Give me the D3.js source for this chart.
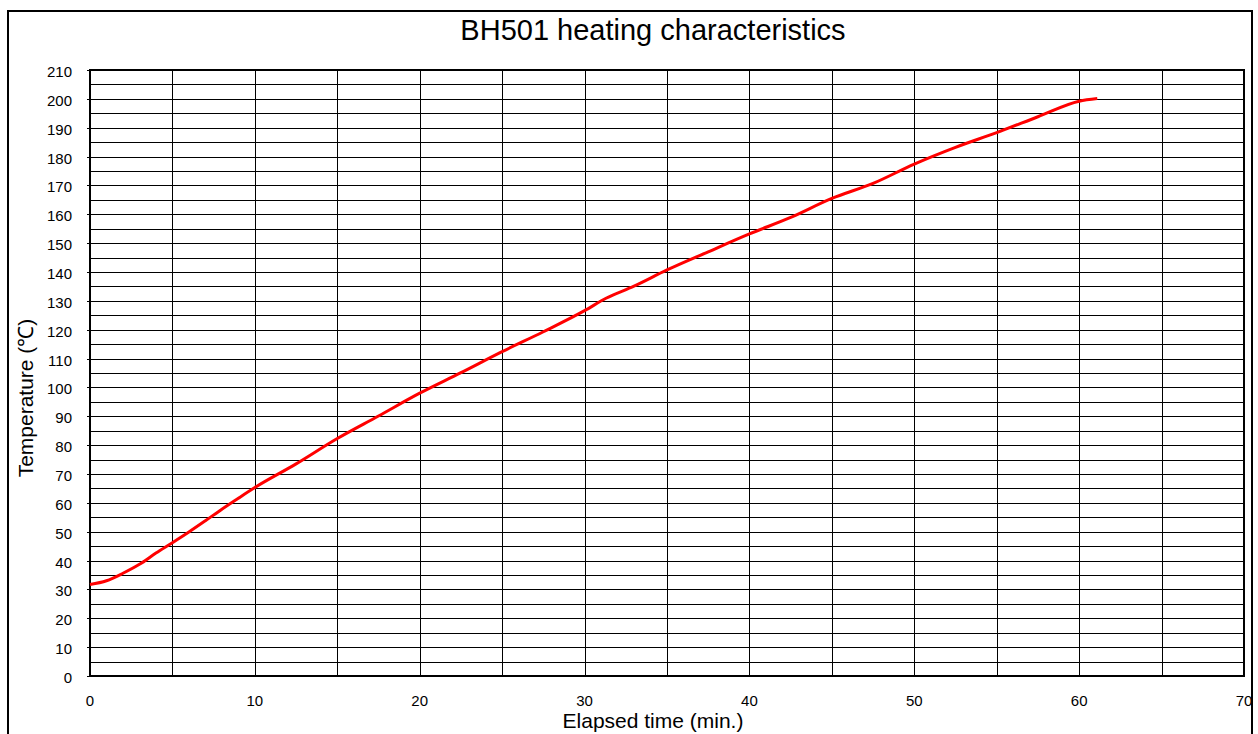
<!DOCTYPE html>
<html>
<head>
<meta charset="utf-8">
<script src="https://cdn.jsdelivr.net/npm/d3@7"></script>
<style>
    body { margin: 0; background: #fff; }
    text { font-family: "Liberation Sans", Arial, sans-serif; fill: #000; }
</style>
</head>
<body>
<div id="chart"></div>
<script>
var times = [0, 1, 2, 3, 4, 5, 6, 7, 8, 9, 10, 12.5, 15, 17.5, 20, 22.5, 25, 27.5, 30, 31.3, 33, 35, 37.5, 40, 42.5, 45, 47.5, 50, 52.5, 55, 57.5, 60, 61.1];
var temps = [31.7, 33, 35.6, 38.7, 42.6, 46.2, 49.9, 53.8, 57.8, 61.6, 65.3, 73.5, 82.3, 90.1, 98, 105.1, 112.4, 119.3, 126.6, 130.9, 135.1, 140.7, 147, 153.2, 158.9, 165.5, 170.7, 177.4, 183.2, 188.3, 193.8, 199.2, 200.1];

var xTicks = [0, 10, 20, 30, 40, 50, 60, 70];
var yTicks = [0, 10, 20, 30, 40, 50, 60, 70, 80, 90, 100, 110, 120, 130, 140, 150, 160, 170, 180, 190, 200, 210];
var xGrid = [0, 5, 10, 15, 20, 25, 30, 35, 40, 45, 50, 55, 60, 65, 70];
var yGrid = [0, 5, 10, 15, 20, 25, 30, 35, 40, 45, 50, 55, 60, 65, 70, 75, 80, 85, 90, 95, 100, 105,
    110, 115, 120, 125, 130, 135, 140, 145, 150, 155, 160, 165, 170, 175, 180, 185, 190, 195, 200, 205, 210];

var width = 1258, height = 734;
var plotLeft = 90, plotRight = 1244, plotTop = 70, plotBottom = 676;

var svg = d3.select("#chart").append("svg")
    .attr("width", width)
    .attr("height", height);

svg.append("rect")
    .attr("x", 8)
    .attr("y", 11)
    .attr("width", 1244)
    .attr("height", 740)
    .attr("fill", "none")
    .attr("stroke", "#000")
    .attr("stroke-width", 2);

var x = d3.scaleLinear().domain([0, 70]).range([plotLeft, plotRight]);
var y = d3.scaleLinear().domain([0, 210]).range([plotBottom, plotTop]);

// grid
svg.append("g")
    .selectAll("line")
    .data(yGrid)
    .join("line")
    .attr("x1", d => (d % 10 == 0) ? plotLeft - 3 : plotLeft)
    .attr("x2", plotRight)
    .attr("y1", d => Math.round(y(d)) + 0.5)
    .attr("y2", d => Math.round(y(d)) + 0.5)
    .attr("stroke", "#000")
    .attr("stroke-width", 1.2)
    .attr("shape-rendering", "crispEdges");

svg.append("g")
    .selectAll("line")
    .data(xGrid)
    .join("line")
    .attr("x1", d => Math.round(x(d)) + 0.5)
    .attr("x2", d => Math.round(x(d)) + 0.5)
    .attr("y1", plotTop)
    .attr("y2", plotBottom)
    .attr("stroke", "#000")
    .attr("stroke-width", 1.2)
    .attr("shape-rendering", "crispEdges");

svg.append("rect")
    .attr("x", plotLeft)
    .attr("y", plotTop)
    .attr("width", plotRight - plotLeft)
    .attr("height", plotBottom - plotTop)
    .attr("fill", "none")
    .attr("stroke", "#000")
    .attr("stroke-width", 2)
    .attr("shape-rendering", "crispEdges");

// tick labels
svg.append("g")
    .selectAll("text")
    .data(yTicks)
    .join("text")
    .attr("x", 72)
    .attr("y", d => y(d) + 7)
    .attr("text-anchor", "end")
    .style("font-size", "15px")
    .text(d => d);

svg.append("g")
    .selectAll("text")
    .data(xTicks)
    .join("text")
    .attr("x", d => x(d))
    .attr("y", 706)
    .attr("text-anchor", "middle")
    .style("font-size", "15px")
    .text(d => d);

// titles
svg.append("text")
    .attr("x", 653)
    .attr("y", 40)
    .attr("text-anchor", "middle")
    .style("font-size", "29px")
    .text("BH501 heating characteristics");

svg.append("text")
    .attr("x", 653)
    .attr("y", 728)
    .attr("text-anchor", "middle")
    .style("font-size", "21px")
    .text("Elapsed time (min.)");

svg.append("text")
    .attr("transform", "translate(33,398) rotate(-90)")
    .attr("text-anchor", "middle")
    .style("font-size", "21px")
    .text("Temperature (\u2103)");

// curve
var line = d3.line()
    .x((d, i) => x(times[i]))
    .y(d => y(d))
    .curve(d3.curveMonotoneX);

svg.append("path")
    .datum(temps)
    .attr("d", line)
    .attr("fill", "none")
    .attr("stroke", "#ff0000")
    .attr("stroke-width", 3)
    .attr("stroke-linejoin", "round");
</script>
</body>
</html>
